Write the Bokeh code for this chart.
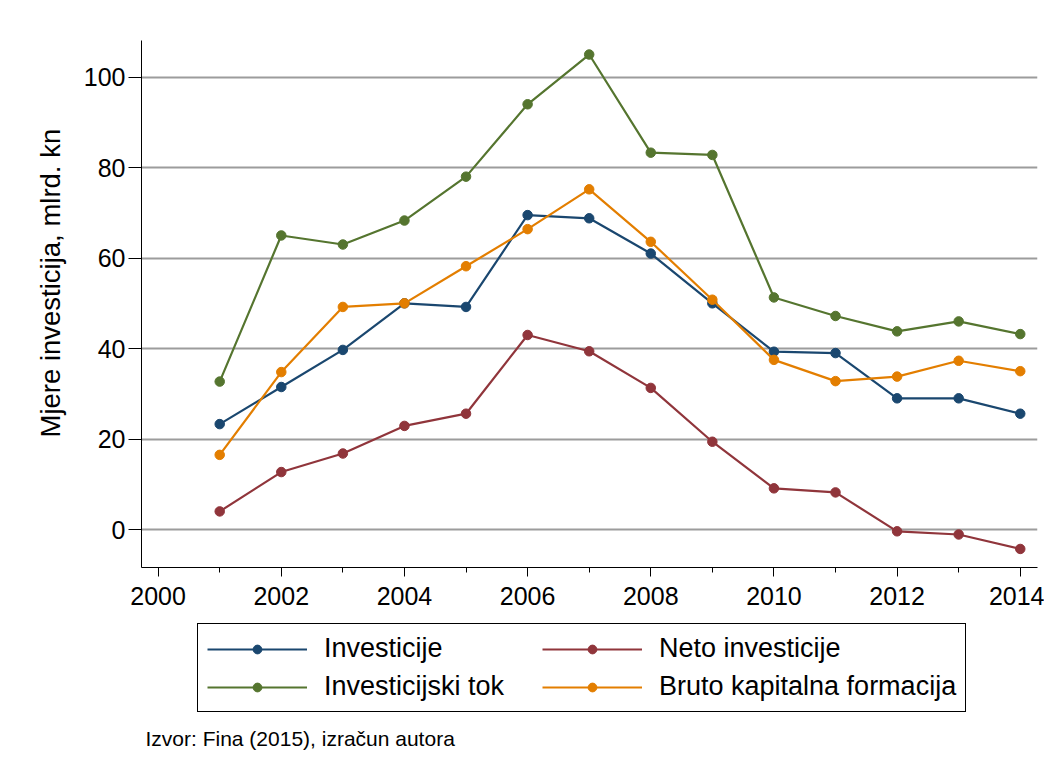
from bokeh.plotting import figure
from bokeh.layouts import column
from bokeh.models import (Range1d, FixedTicker, SingleIntervalTicker, Legend, LegendItem, Title, Label)
from bokeh.embed import file_html
from bokeh.resources import INLINE

years = [2001, 2002, 2003, 2004, 2005, 2006, 2007, 2008, 2009, 2010, 2011, 2012, 2013, 2014]
investicije = [23.3, 31.5, 39.7, 50.0, 49.2, 69.5, 68.8, 61.0, 50.0, 39.3, 39.0, 29.0, 29.0, 25.6]
neto_investicije = [4.0, 12.7, 16.8, 22.9, 25.6, 43.0, 39.4, 31.3, 19.4, 9.1, 8.2, -0.4, -1.1, -4.3]
investicijski_tok = [32.7, 65.0, 63.0, 68.3, 78.0, 94.0, 105.0, 83.3, 82.8, 51.3, 47.2, 43.8, 46.0, 43.2]
bruto_kf = [16.5, 34.8, 49.2, 50.0, 58.2, 66.4, 75.2, 63.6, 50.8, 37.5, 32.8, 33.8, 37.3, 35.0]

series_names = ["Investicije", "Neto investicije", "Investicijski tok", "Bruto kapitalna formacija"]
series_values = [investicije, neto_investicije, investicijski_tok, bruto_kf]
colors = ["#1a476f", "#90353b", "#55752f", "#e37e00"]

y_ticks = [0, 20, 40, 60, 80, 100]
y_title = "Mjere investicija, mlrd. kn"
note = "Izvor: Fina (2015), izračun autora"

FONT = "Liberation Sans"
W = 1044

# ---- main chart ----
p = figure(width=W, height=620, output_backend="svg", toolbar_location=None,
           x_range=Range1d(1999.73, 2014.28), y_range=Range1d(-8.4, 108.1),
           min_border_left=141, min_border_right=7, min_border_top=40, min_border_bottom=53)
p.outline_line_color = None
p.background_fill_color = "white"
p.border_fill_color = "white"

p.xgrid.grid_line_color = None
p.ygrid.ticker = FixedTicker(ticks=y_ticks)
p.ygrid.grid_line_color = "#9c9c9c"
p.ygrid.grid_line_width = 2

p.yaxis.ticker = FixedTicker(ticks=y_ticks, minor_ticks=[])
p.xaxis.ticker = SingleIntervalTicker(interval=2, num_minor_ticks=2)
for ax in (p.xaxis[0], p.yaxis[0]):
    ax.axis_line_color = "black"
    ax.axis_line_width = 1
    ax.major_tick_line_color = "black"
    ax.minor_tick_line_color = "black"
    ax.major_tick_in = 0
    ax.minor_tick_in = 0
    ax.major_label_text_font = FONT
    ax.major_label_text_font_size = "25px"
    ax.major_label_text_color = "black"
p.xaxis.major_tick_out = 9
p.xaxis.minor_tick_out = 5
p.xaxis.major_label_standoff = 10
p.yaxis.major_tick_out = 13
p.yaxis.major_label_standoff = 3
p.yaxis.major_label_orientation = "horizontal"

for vals, c in zip(series_values, colors):
    p.line(years, vals, line_color=c, line_width=2.2)
    p.scatter(years, vals, size=9.5, fill_color=c, line_color=c)

p.add_layout(Title(text=y_title, align="left", offset=130, standoff=29,
                   text_font=FONT, text_font_size="27.5px", text_font_style="normal",
                   text_color="black"), "left")

# ---- legend + source note (frame aligned with the chart above, left edge at x=141) ----
q = figure(width=W, height=146, output_backend="svg", toolbar_location=None,
           x_axis_type=None, y_axis_type=None, x_range=Range1d(0, 1), y_range=Range1d(0, 1),
           min_border_left=141, min_border_right=7, min_border_top=0, min_border_bottom=0)
q.outline_line_color = None
q.grid.grid_line_color = None
q.background_fill_color = "white"
q.border_fill_color = "white"

items = []
for name, vals, c in zip(series_names, series_values, colors):
    # same series, outside this strip's ranges: only used to draw legend glyphs
    l = q.line(years, vals, line_color=c, line_width=2.2)
    s = q.scatter(years, vals, fill_color=c, line_color=c)
    items.append(LegendItem(label=name, renderers=[l, s]))

legend = Legend(items=items, orientation="horizontal", ncols=2,
                location=(56, 54),
                label_text_font=FONT, label_text_font_size="27px", label_text_color="black",
                glyph_width=100, glyph_height=22, label_height=30, label_width=211,
                label_standoff=17, spacing=7, padding=9, margin=0,
                border_line_color="black", border_line_width=1, border_line_alpha=1,
                background_fill_color="white", background_fill_alpha=1)
q.add_layout(legend, "center")
q.add_layout(Label(x=4, y=28, x_units="screen", y_units="screen", text=note,
                   text_align="left", text_baseline="middle",
                   text_font=FONT, text_font_size="21px", text_color="black"))

layout = column(p, q, spacing=0)
open("out.html", "w").write(file_html(layout, INLINE))
